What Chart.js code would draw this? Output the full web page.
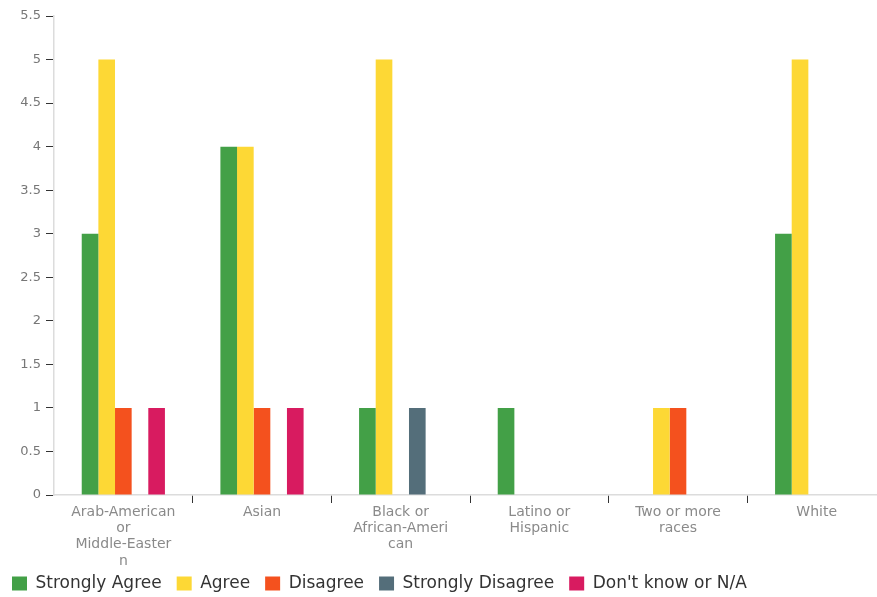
<!DOCTYPE html>
<html>
<head>
<meta charset="utf-8">
<script src="https://cdn.jsdelivr.net/npm/chart.js@4"></script>
<style>
  html, body { margin: 0; padding: 0; background: #fff; overflow: hidden; }
  #wrap { width: 877px; height: 597px; overflow: hidden; position: relative; }
  #box { width: 896px; height: 612px; position: absolute; left: -8px; top: 0; }
</style>
</head>
<body>
<div id="wrap"><div id="box"><canvas id="c"></canvas></div></div>
<script>
// Response counts by race / ethnicity
const categories = [
  ["Arab-American", "or", "Middle-Easter", "n"],
  ["Asian"],
  ["Black or", "African-Ameri", "can"],
  ["Latino or", "Hispanic"],
  ["Two or more", "races"],
  ["White"]
];
const stronglyAgree    = [3, 4, 1, 1, 0, 3];
const agree            = [5, 4, 5, 0, 1, 5];
const disagree         = [1, 1, 0, 0, 1, 0];
const stronglyDisagree = [0, 0, 1, 0, 0, 0];
const dontKnow         = [1, 1, 0, 0, 0, 0];

const seriesNames  = ["Strongly Agree", "Agree", "Disagree", "Strongly Disagree", "Don't know or N/A"];
const seriesValues = [stronglyAgree, agree, disagree, stronglyDisagree, dontKnow];
const seriesColors = ["#43A047", "#FDD835", "#F4511E", "#546E7A", "#D81B60"];

const FONT = "'DejaVu Sans', sans-serif";

// Pull the legend row up so it sits just under the wrapped category labels.
const legendLift = {
  id: "legendLift",
  afterLayout(chart) {
    const lg = chart.legend;
    if (lg) { lg.top -= 10; lg.bottom -= 10; }
  }
};

new Chart(document.getElementById("c"), {
  type: "bar",
  data: {
    labels: categories,
    datasets: seriesNames.map((name, i) => ({
      label: name,
      data: seriesValues[i],
      backgroundColor: seriesColors[i],
      borderWidth: 0,
      categoryPercentage: 0.6,
      barPercentage: 1.0
    }))
  },
  plugins: [legendLift],
  options: {
    responsive: true,
    maintainAspectRatio: false,
    animation: false,
    layout: { padding: { top: 16, left: 5, right: 2, bottom: 0 } },
    plugins: {
      tooltip: { enabled: false },
      legend: {
        position: "bottom",
        align: "start",
        labels: {
          boxWidth: 15,
          boxHeight: 14,
          padding: 15,
          color: "#333",
          font: { family: FONT, size: 17 }
        }
      }
    },
    scales: {
      x: {
        grid: {
          drawOnChartArea: false,
          offset: true,
          tickLength: 8,
          color: ctx => ctx.index === 0 ? "rgba(0,0,0,0)" : "#333"
        },
        border: { color: "#dcdcdc", width: 1.5 },
        ticks: {
          color: "#8a8a8a",
          padding: 1,
          maxRotation: 0,
          autoSkip: false,
          font: { family: FONT, size: 14, lineHeight: 1.165 }
        },
        afterFit: s => { s.height = 75; }
      },
      y: {
        min: 0,
        max: 5.5,
        grid: {
          drawOnChartArea: false,
          tickLength: 8,
          color: "#333"
        },
        border: { color: "#dcdcdc", width: 1.5 },
        ticks: {
          stepSize: 0.5,
          color: "#777",
          padding: 5,
          font: { family: FONT, size: 13 },
          callback: v => String(Math.round(v * 10) / 10)
        },
        afterFit: s => { s.width = 57; }
      }
    }
  }
});
</script>
</body>
</html>
